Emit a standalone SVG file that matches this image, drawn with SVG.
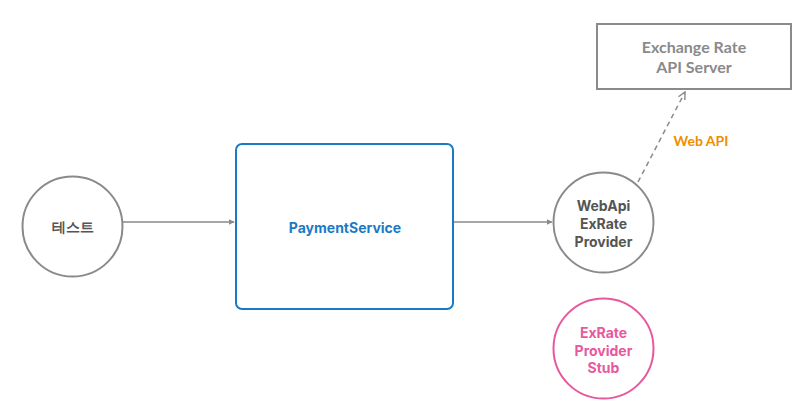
<svg xmlns="http://www.w3.org/2000/svg" width="802" height="410" viewBox="0 0 802 410">
<style>
.gray{fill:none;stroke:#8a8a8a;stroke-width:2}
.t{font-family:"Inter","Liberation Sans",sans-serif;font-weight:bold;font-size:14px;text-anchor:middle}
.hand{font-family:"Lato","Liberation Sans",sans-serif;font-weight:bold;text-anchor:middle}
.conn{fill:none;stroke:#8a8a8a;stroke-width:1.5}
</style>
<defs>
<marker id="ah" viewBox="0 0 10 10" refX="9" refY="5" markerWidth="6" markerHeight="6" orient="auto" markerUnits="userSpaceOnUse"><path d="M0,0 L10,5 L0,10 z" fill="#8a8a8a"/></marker>
<marker id="oa" viewBox="0 0 10 10" refX="9" refY="5" markerWidth="9" markerHeight="9" orient="auto" markerUnits="userSpaceOnUse"><path d="M1,1 L9,5 L1,9" fill="none" stroke="#8a8a8a" stroke-width="1.6"/></marker>
</defs>
<rect width="802" height="410" fill="#ffffff"/>
<g id="connectors">
<line class="conn" x1="123" y1="222" x2="234" y2="222" marker-end="url(#ah)"/>
<line class="conn" x1="454" y1="222" x2="552" y2="222" marker-end="url(#ah)"/>
<line class="conn" x1="638" y1="182" x2="685" y2="92" stroke-dasharray="5,4" stroke-width="2" marker-end="url(#oa)"/>
<text class="hand" x="701" y="146" fill="#f08c00" font-size="14">Web API</text>
</g>
<g id="test">
<circle class="gray" cx="72.5" cy="226.5" r="50"/>
<text class="t" x="72.5" y="232" fill="#555">테스트</text>
</g>
<g id="payment">
<rect x="236" y="144" width="217" height="165" rx="6" fill="none" stroke="#1a7bc4" stroke-width="2"/>
<text class="t" x="345" y="233" fill="#1a7bc4">PaymentService</text>
</g>
<g id="webapi">
<circle class="gray" cx="603.5" cy="222.5" r="50"/>
<text class="t" fill="#555"><tspan x="603.5" y="211">WebApi</tspan><tspan x="603.5" y="229">ExRate</tspan><tspan x="603.5" y="247">Provider</tspan></text>
</g>
<g id="stub">
<circle cx="603.5" cy="348.5" r="50" fill="none" stroke="#e8589c" stroke-width="2"/>
<text class="t" fill="#e8589c"><tspan x="603.5" y="338">ExRate</tspan><tspan x="603.5" y="356">Provider</tspan><tspan x="603.5" y="373">Stub</tspan></text>
</g>
<g id="server">
<rect class="gray" x="597" y="24" width="194" height="65"/>
<text class="hand" fill="#8a8a8a" font-size="16"><tspan x="694" y="53">Exchange Rate</tspan><tspan x="694" y="73">API Server</tspan></text>
</g>
</svg>
